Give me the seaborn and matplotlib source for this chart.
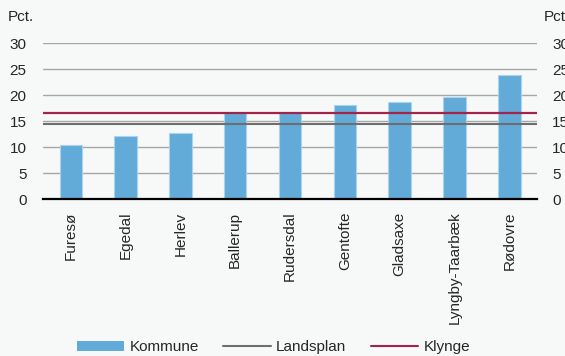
import matplotlib
matplotlib.use("Agg")
import matplotlib.pyplot as plt
import pandas as pd
import seaborn as sns
from matplotlib.lines import Line2D
from matplotlib.patches import Patch

kommuner = ["Furesø", "Egedal", "Herlev", "Ballerup", "Rudersdal",
            "Gentofte", "Gladsaxe", "Lyngby-Taarbæk", "Rødovre"]
kommune_pct = [10.4, 12.1, 12.8, 16.5, 16.5, 18.1, 18.7, 19.7, 23.9]
landsplan = 14.5
klynge = 16.6
y_ticks = [0, 5, 10, 15, 20, 25, 30]

bg = "#f7f9f9"
bar_color = "#62aad7"
grey_line = "#6e6e6e"
red_line = "#a3234b"

sns.set_theme(style="white")
plt.rcParams["font.family"] = ["Liberation Sans", "DejaVu Sans"]
plt.rcParams["font.size"] = 11

df = pd.DataFrame({"kommune": kommuner, "pct": kommune_pct})

fig = plt.figure(figsize=(5.65, 3.56), dpi=100, facecolor=bg)
ax = fig.add_axes([0.0767, 0.441, 0.8733, 0.4373])
ax.set_facecolor(bg)

sns.barplot(data=df, x="kommune", y="pct", color=bar_color, width=0.41,
            saturation=1, edgecolor="#a9d3ee", linewidth=0.8, ax=ax, zorder=2)

ax.axhline(landsplan, color=grey_line, lw=1.5, zorder=3)
ax.axhline(klynge, color=red_line, lw=1.6, zorder=3)

ax.set_ylim(0, 30)
ax.set_xlim(-0.5, len(kommuner) - 0.5)
ax.set_yticks(y_ticks)
ax.yaxis.grid(True, color="#a6a6a6", lw=1)
ax.set_axisbelow(True)
for s in ["left", "right", "top"]:
    ax.spines[s].set_visible(False)
ax.spines["bottom"].set_color("black")
ax.spines["bottom"].set_linewidth(1.6)
ax.set_xlabel("")
ax.set_ylabel("")

ax.set_xticks(range(len(kommuner)))
ax.set_xticklabels(kommuner, rotation=90, fontsize=11)
ax.set_xticks([i - 0.5 for i in range(len(kommuner) + 1)], minor=True)
ax.tick_params(axis="x", which="major", length=0, pad=9)
ax.tick_params(axis="x", which="minor", length=4.5, width=1.4, color="black",
               direction="out")
ax.tick_params(axis="y", length=0, pad=12, labelsize=11)

ax2 = ax.twinx()
ax2.set_ylim(0, 30)
ax2.set_yticks(y_ticks)
ax2.tick_params(axis="y", length=0, pad=11, labelsize=11)
for s in ax2.spines.values():
    s.set_visible(False)

fig.text(0.014, 0.951, "Pct.", fontsize=11, va="center", ha="left")
fig.text(0.963, 0.951, "Pct.", fontsize=11, va="center", ha="left")

handles = [Patch(facecolor=bar_color, edgecolor="none"),
           Line2D([0], [0], color=grey_line, lw=1.5),
           Line2D([0], [0], color=red_line, lw=1.5)]
fig.legend(handles, ["Kommune", "Landsplan", "Klynge"], loc="center",
           bbox_to_anchor=(0.484, 0.024), ncol=3, frameon=False,
           fontsize=11, handlelength=3.1, handleheight=0.6,
           columnspacing=1.6, handletextpad=0.35)

fig.savefig("out.png", dpi=100, facecolor=bg)
